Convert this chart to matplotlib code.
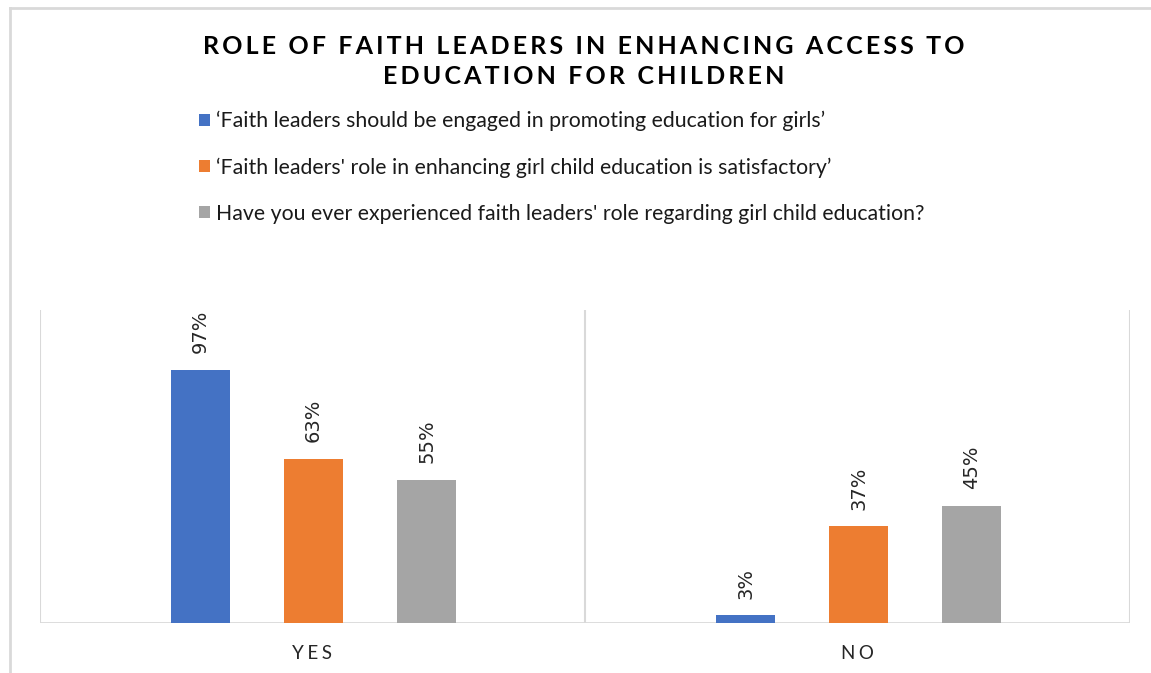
import matplotlib
matplotlib.use("Agg")
import matplotlib.pyplot as plt
from matplotlib.patches import Patch
from matplotlib.lines import Line2D
import numpy as np

# Datos de la encuesta (%)
categorias = ["YES", "NO"]
series = [
    "‘Faith leaders should be engaged in promoting education for girls’",
    "‘Faith leaders' role in enhancing girl child education is satisfactory’",
    "Have you ever experienced faith leaders' role regarding girl child education?",
]
comprometidos = [97, 3]
satisfactorio = [63, 37]
experiencia = [55, 45]
colores = ["#4472C4", "#ED7D31", "#A5A5A5"]

titulo = ["ROLE OF FAITH LEADERS IN ENHANCING ACCESS TO", "EDUCATION FOR CHILDREN"]

FAM = ["Lato", "DejaVu Sans"]
W, H = 1151, 673


def espaciar(texto, sep="\u200a"):
    """Separa las letras con un espacio fino."""
    return sep.join(texto)


fig = plt.figure(figsize=(W / 100, H / 100), dpi=100)

# Marco exterior
fig.add_artist(Line2D([10 / W, 10 / W], [0, 1 - 8 / H], transform=fig.transFigure,
                      color="#d9d9d9", lw=2))
fig.add_artist(Line2D([10 / W, 1], [1 - 8 / H, 1 - 8 / H], transform=fig.transFigure,
                      color="#d9d9d9", lw=2))

ax = fig.add_axes([40 / W, (H - 623) / H, 1090 / W, 313 / H])

x = np.arange(len(categorias))
ancho = 0.108
desplaz = 0.2075
valores = [comprometidos, satisfactorio, experiencia]
for i, (vals, color, nombre) in enumerate(zip(valores, colores, series)):
    pos = x + (i - 1) * desplaz + 0.002
    barras = ax.bar(pos, vals, width=ancho, color=color, label=nombre, zorder=3)
    for b, v in zip(barras, vals):
        ax.annotate(f"{v}%", (b.get_x() + b.get_width() / 2, v),
                    xytext=(0, 12), textcoords="offset points",
                    rotation=90, ha="center", va="bottom",
                    fontsize=14, family=["DejaVu Sans"], color="#262626")

ax.set_xlim(-0.5, 1.5)
ax.set_ylim(0, 120)
for xv in [-0.5, 0.5, 1.5]:
    ax.axvline(xv, color="#d9d9d9", lw=1.5, zorder=1)
for s in ax.spines.values():
    s.set_visible(False)
ax.axhline(0, color="#d9d9d9", lw=2, zorder=2)
ax.set_yticks([])
ax.set_xticks(x)
ax.set_xticklabels([espaciar(c, "\u2009\u200a") for c in categorias], family=FAM,
                   fontsize=13.5, color="#262626")
ax.tick_params(axis="x", length=0, pad=16)

# Titulo
fig.text(584 / W, 1 - 46 / H, espaciar(titulo[0], "\u2009"), ha="center", va="center",
         fontsize=18, fontweight="bold", family=FAM, color="#000000")
fig.text(584 / W, 1 - 76 / H, espaciar(titulo[1], "\u2009"), ha="center", va="center",
         fontsize=18, fontweight="bold", family=FAM, color="#000000")

# Leyenda
handles = [Patch(facecolor=c) for c in colores]
fig.legend(handles, series, loc="upper left", bbox_to_anchor=(199 / W, 1 - 111 / H),
           frameon=False, prop={"family": FAM, "size": 15.3},
           handlelength=0.5, handleheight=0.5, handletextpad=0.3,
           labelspacing=1.22, borderaxespad=0, borderpad=0, labelcolor="#1a1a1a")

fig.savefig("out.png", dpi=100)
